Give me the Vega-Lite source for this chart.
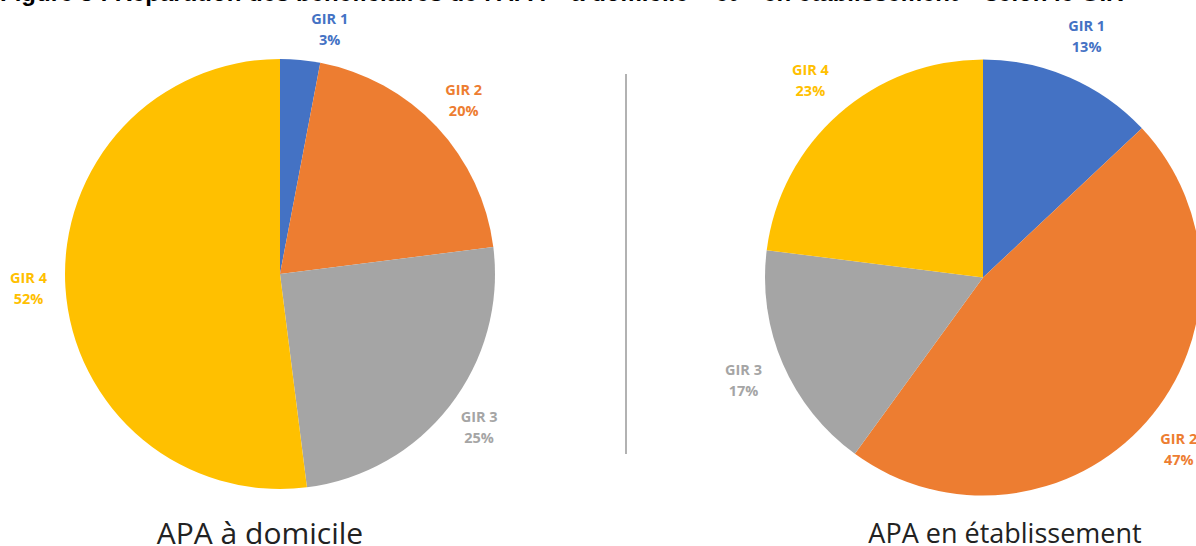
{
  "$schema": "https://vega.github.io/schema/vega-lite/v6.json",
  "autosize": {"type": "pad"},
  "padding": {"left": 0, "top": -19, "right": -78, "bottom": 0},
  "background": "white",
  "title": {
    "text": "Figure 5 : Répartition des bénéficiaires de l'APA « à domicile » et « en établissement » selon le GIR",
    "anchor": "start",
    "font": "Liberation Sans",
    "fontSize": 24,
    "fontWeight": "bold",
    "color": "#000000",
    "offset": -1
  },
  "config": {"view": {"stroke": null}, "concat": {"spacing": 0}},
  "spacing": 0,
  "datasets": {
    "domicile": [
      {"gir": "GIR 1", "share": 0.03},
      {"gir": "GIR 2", "share": 0.20},
      {"gir": "GIR 3", "share": 0.25},
      {"gir": "GIR 4", "share": 0.52}
    ],
    "etablissement": [
      {"gir": "GIR 1", "share": 0.13},
      {"gir": "GIR 2", "share": 0.47},
      {"gir": "GIR 3", "share": 0.17},
      {"gir": "GIR 4", "share": 0.23}
    ]
  },
  "hconcat": [
    {
      "width": 560,
      "height": 504,
      "data": {"name": "domicile"},
      "title": {"text": "APA à domicile", "orient": "bottom", "dx": -20, "font": "Open Sans", "fontSize": 30, "fontWeight": "normal", "color": "#222222", "offset": -6},
      "encoding": {
        "theta": {"field": "share", "type": "quantitative", "stack": true},
        "order": {"field": "gir", "type": "ordinal"},
        "color": {"field": "gir", "type": "nominal", "legend": null,
          "scale": {"domain": ["GIR 1", "GIR 2", "GIR 3", "GIR 4"], "range": ["#4472C4", "#ED7D31", "#A5A5A5", "#FFC000"]}}
      },
      "layer": [
        {"mark": {"type": "arc", "outerRadius": 215}},
        {"mark": {"type": "text", "radius": 252, "dy": -10.5, "font": "Open Sans", "fontSize": 14.5, "fontWeight": "bold"},
         "encoding": {"text": {"condition": {"test": "datum.gir === 'GIR 1'", "value": ""}, "field": "gir"}}},
        {"mark": {"type": "text", "radius": 252, "dy": 10.5, "font": "Open Sans", "fontSize": 14.5, "fontWeight": "bold"},
         "encoding": {"text": {"condition": {"test": "datum.gir === 'GIR 1'", "value": ""}, "field": "share", "format": ".0%"}}},
        {"transform": [{"filter": "datum.gir === 'GIR 1'"}],
         "mark": {"type": "text", "radius": 252, "dx": 26, "dy": -3, "font": "Open Sans", "fontSize": 14.5, "fontWeight": "bold"},
         "encoding": {"text": {"field": "gir"}}},
        {"transform": [{"filter": "datum.gir === 'GIR 1'"}],
         "mark": {"type": "text", "radius": 252, "dx": 26, "dy": 18, "font": "Open Sans", "fontSize": 14.5, "fontWeight": "bold"},
         "encoding": {"text": {"field": "share", "format": ".0%"}}}
      ]
    },
    {
      "width": 132,
      "height": 504,
      "data": {"values": [{}]},
      "mark": {"type": "rule", "color": "#7F7F7F", "strokeWidth": 1.2},
      "encoding": {
        "x": {"datum": 0.5, "type": "quantitative", "scale": {"domain": [0, 1]}, "axis": null},
        "y": {"datum": 52, "type": "quantitative", "scale": {"domain": [0, 504], "reverse": true}, "axis": null},
        "y2": {"datum": 432}
      }
    },
    {
      "width": 582,
      "height": 511,
      "data": {"name": "etablissement"},
      "title": {"text": "APA en établissement", "orient": "bottom", "dx": 22, "font": "Open Sans", "fontSize": 27, "fontWeight": "normal", "color": "#222222", "offset": -11},
      "encoding": {
        "theta": {"field": "share", "type": "quantitative", "stack": true},
        "order": {"field": "gir", "type": "ordinal"},
        "color": {"field": "gir", "type": "nominal", "legend": null,
          "scale": {"domain": ["GIR 1", "GIR 2", "GIR 3", "GIR 4"], "range": ["#4472C4", "#ED7D31", "#A5A5A5", "#FFC000"]}}
      },
      "layer": [
        {"mark": {"type": "arc", "outerRadius": 218}},
        {"mark": {"type": "text", "radius": 261, "dy": -10.5, "font": "Open Sans", "fontSize": 14.5, "fontWeight": "bold"},
         "encoding": {"text": {"field": "gir"}}},
        {"mark": {"type": "text", "radius": 261, "dy": 10.5, "font": "Open Sans", "fontSize": 14.5, "fontWeight": "bold"},
         "encoding": {"text": {"field": "share", "format": ".0%"}}}
      ]
    }
  ]
}
